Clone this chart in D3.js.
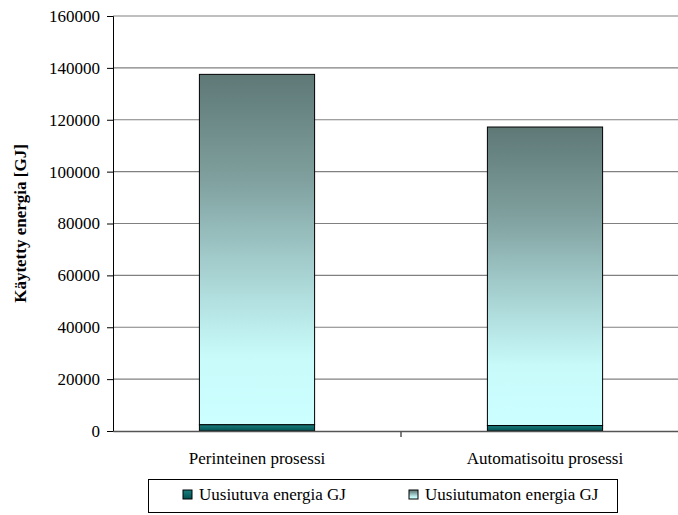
<!DOCTYPE html>
<html>
<head>
<meta charset="utf-8">
<script src="https://cdn.jsdelivr.net/npm/d3@7"></script>
<style>
  html, body { margin: 0; padding: 0; background: #fff; }
  svg text { font-family: "Liberation Serif", "Times New Roman", serif; }
</style>
</head>
<body>
<svg id="chart" width="678" height="515"></svg>
<script>
// Energy use per process, GJ
const categories = ["Perinteinen prosessi", "Automatisoitu prosessi"];
const renewable = [2400, 2100];          // Uusiutuva energia GJ
const nonRenewable = [135100, 115100];   // Uusiutumaton energia GJ
const seriesNames = ["Uusiutuva energia GJ", "Uusiutumaton energia GJ"];
const yTicks = [0, 20000, 40000, 60000, 80000, 100000, 120000, 140000, 160000];

const svg = d3.select("#chart");
const plot = { left: 113, right: 689, top: 16, bottom: 431 };

const x = d3.scaleBand().domain(categories).range([plot.left, plot.right]).padding(0);
const y = d3.scaleLinear().domain([0, 160000]).range([plot.bottom, plot.top]);
const barW = x.bandwidth() * 0.4;

const defs = svg.append("defs");
const g1 = defs.append("linearGradient").attr("id", "nonRenewGrad")
  .attr("x1", 0).attr("y1", 0).attr("x2", 0).attr("y2", 1);
[[0, "#5e7876"], [0.3, "#7fa09e"], [0.55, "#a5cfcf"], [0.8, "#c8fafa"], [1, "#ccffff"]]
  .forEach(([o, c]) => g1.append("stop").attr("offset", o).attr("stop-color", c));
const g2 = defs.append("linearGradient").attr("id", "renewGrad")
  .attr("x1", 0).attr("y1", 0).attr("x2", 0).attr("y2", 1);
[[0, "#1a7f7f"], [1, "#005050"]]
  .forEach(([o, c]) => g2.append("stop").attr("offset", o).attr("stop-color", c));

// horizontal gridlines
svg.append("g").selectAll("line").data(yTicks.filter(d => d > 0)).join("line")
  .attr("x1", plot.left).attr("x2", 678)
  .attr("y1", d => y(d)).attr("y2", d => y(d))
  .attr("stroke", "#808080").attr("stroke-width", 1.2);

// stacked bars
const stacked = categories.map((c, i) => ({ c, r: renewable[i], n: nonRenewable[i] }));
const bars = svg.append("g");
bars.selectAll("rect.n").data(stacked).join("rect").attr("class", "n")
  .attr("x", d => x(d.c) + (x.bandwidth() - barW) / 2)
  .attr("width", barW)
  .attr("y", d => y(d.r + d.n))
  .attr("height", d => y(d.r) - y(d.r + d.n))
  .attr("fill", "url(#nonRenewGrad)")
  .attr("stroke", "#000").attr("stroke-width", 1);
bars.selectAll("rect.r").data(stacked).join("rect").attr("class", "r")
  .attr("x", d => x(d.c) + (x.bandwidth() - barW) / 2)
  .attr("width", barW)
  .attr("y", d => y(d.r))
  .attr("height", d => y(0) - y(d.r))
  .attr("fill", "url(#renewGrad)")
  .attr("stroke", "#000").attr("stroke-width", 1);

// y axis
const yAxis = svg.append("g").attr("transform", `translate(${plot.left},0)`)
  .call(d3.axisLeft(y).tickValues(yTicks).tickSize(6).tickPadding(7).tickFormat(d3.format("d")));
yAxis.select(".domain").attr("stroke", "#000");
yAxis.selectAll(".tick line").attr("stroke", "#000");
yAxis.selectAll("text").attr("font-size", 17).attr("fill", "#000");

// x axis
const xAxis = svg.append("g").attr("transform", `translate(0,${plot.bottom})`)
  .call(d3.axisBottom(x).tickSize(0).tickPadding(21));
xAxis.select(".domain").attr("stroke", "#555").attr("stroke-width", 1.5);
xAxis.selectAll("text").attr("font-size", 17).attr("fill", "#000");
// divider tick between categories
svg.append("line")
  .attr("x1", x(categories[1])).attr("x2", x(categories[1]))
  .attr("y1", plot.bottom).attr("y2", plot.bottom + 6)
  .attr("stroke", "#555").attr("stroke-width", 1.5);

// y axis title
svg.append("text")
  .attr("transform", `translate(26,${(plot.top + plot.bottom) / 2}) rotate(-90)`)
  .attr("text-anchor", "middle")
  .attr("font-size", 17).attr("font-weight", "bold")
  .text("Käytetty energia [GJ]");

// legend
const legend = svg.append("g");
legend.append("rect").attr("x", 148.5).attr("y", 479.5).attr("width", 469).attr("height", 33)
  .attr("fill", "#fff").attr("stroke", "#000").attr("stroke-width", 1);
const legendItems = [
  { name: seriesNames[0], fill: "url(#renewGrad)", x: 183 },
  { name: seriesNames[1], fill: "url(#nonRenewGrad)", x: 409 }
];
const li = legend.selectAll("g.item").data(legendItems).join("g").attr("class", "item")
  .attr("transform", d => `translate(${d.x},490)`);
li.append("rect").attr("width", 9).attr("height", 9)
  .attr("fill", d => d.fill).attr("stroke", "#000").attr("stroke-width", 1);
li.append("text").attr("x", 16).attr("y", 10).attr("font-size", 17).text(d => d.name);
</script>
</body>
</html>
